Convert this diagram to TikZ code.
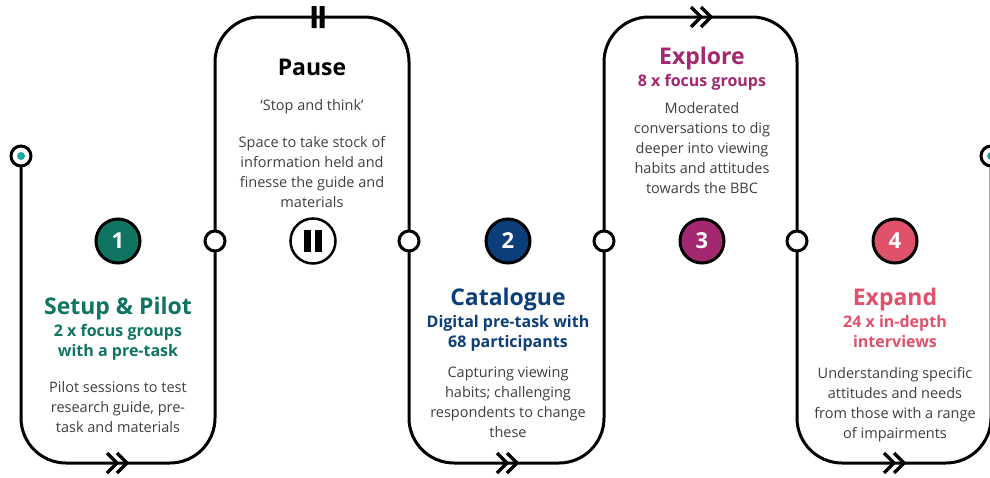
\documentclass[tikz,border=0pt]{standalone}
\usepackage{fontspec}
\setmainfont{Open Sans}
\usetikzlibrary{positioning}

\definecolor{pilotgreen}{HTML}{0F7462}
\definecolor{catblue}{HTML}{0C3F7A}
\definecolor{explmag}{HTML}{A4286F}
\definecolor{exppink}{HTML}{E0526A}
\definecolor{dotteal}{HTML}{1BAA9A}
\definecolor{bodygray}{HTML}{3F3F3F}

\tikzset{
  track/.style={line width=3pt, line join=round},
  stop/.style={circle, draw, line width=3pt, fill=white, minimum size=20pt, inner sep=0pt},
  num/.style={circle, draw, line width=3pt, minimum size=44pt, inner sep=0pt, text=white, font=\bfseries\fontsize{22}{22}\selectfont},
  stagetitle/.style={inner sep=0pt, font=\bfseries\fontsize{23}{26}\selectfont},
  stagesub/.style={inner sep=0pt, align=center, font=\bfseries\fontsize{16}{20}\selectfont},
  stagebody/.style={inner sep=0pt, align=center, text=bodygray, font=\fontsize{14.5}{20}\selectfont},
  fastfwd/.pic={
    \draw[line width=3.5pt] (-11,-10) -- (-1,0) -- (-11,10) (-1,-10) -- (9,0) -- (-1,10);
  },
  pausebars/.pic={
    \fill (-6.5,-11) rectangle (-1.5,11) (1.5,-11) rectangle (6.5,11);
  }
}

\begin{document}
\begin{tikzpicture}[x=1pt, y=-1pt]
    \useasboundingbox (0,0) rectangle (990,477);

    % the route
    \draw[track, rounded corners=45pt] (21,156) -- (21,463) -- (215,463) -- (215,17) -- (409,17) -- (409,463)
        -- (604,463) -- (604,17) -- (797,17) -- (797,463) -- (991,463) -- (991,156);

    % markers on the route
    \pic at (118,463) {fastfwd};
    \pic at (508,463) {fastfwd};
    \pic at (895,463) {fastfwd};
    \pic at (702,17) {fastfwd};
    \pic at (318,17) {pausebars};

    % start, end and stops
    \node[stop] (start) at (21,156) {};
    \fill[dotteal] (start) circle (4pt);
    \node[stop] (finish) at (991,156) {};
    \fill[dotteal] (finish) circle (4pt);
    \foreach \x/\name in {215/j1, 409/j2, 604/j3, 797/j4}
        \node[stop] (\name) at (\x,241) {};

    % stage numbers
    \node[num, fill=pilotgreen] (n1) at (118,241) {1};
    \node[circle, draw, line width=2.5pt, fill=white, minimum size=45pt] (np) at (313,241) {};
    \fill (np.center) ++(-9,-11) rectangle ++(7,22);
    \fill (np.center) ++(2,-11) rectangle ++(7,22);
    \node[num, fill=catblue] (n2) at (508,241) {2};
    \node[num, fill=explmag] (n3) at (702,241) {3};
    \node[num, fill=exppink] (n4) at (895,241) {4};

    % setup & pilot
    \node[stagetitle, text=pilotgreen] (t1) at (118,309) {Setup \& Pilot};
    \node[stagesub, text=pilotgreen, below=3pt of t1] (s1) {2 x focus groups\\with a pre-task};
    \node[stagebody, below=21pt of s1] (b1) {Pilot sessions to test\\research guide, pre-\\task and materials};

    % pause
    \node[stagetitle] (tp) at (312,67) {Pause};
    \node[stagebody, below=24pt of tp] (sp) {`Stop and think'};
    \node[stagebody, below=22pt of sp] (bp) {Space to take stock of\\information held and\\finesse the guide and\\materials};

    % catalogue
    \node[stagetitle, text=catblue] (t2) at (508,300) {Catalogue};
    \node[stagesub, text=catblue, below=3pt of t2] (s2) {Digital pre-task with\\68 participants};
    \node[stagebody, below=16pt of s2] (b2) {Capturing viewing\\habits; challenging\\respondents to change\\these};

    % explore
    \node[stagetitle, text=explmag] (t3) at (702,59) {Explore};
    \node[stagesub, text=explmag, below=3pt of t3] (s3) {8 x focus groups};
    \node[stagebody, below=12pt of s3] (b3) {Moderated\\conversations to dig\\deeper into viewing\\habits and attitudes\\towards the BBC};

    % expand
    \node[stagetitle, text=exppink] (t4) at (895,300) {Expand};
    \node[stagesub, text=exppink, below=3pt of t4] (s4) {24 x in-depth\\interviews};
    \node[stagebody, below=20pt of s4] (b4) {Understanding specific\\attitudes and needs\\from those with a range\\of impairments};
\end{tikzpicture}
\end{document}
